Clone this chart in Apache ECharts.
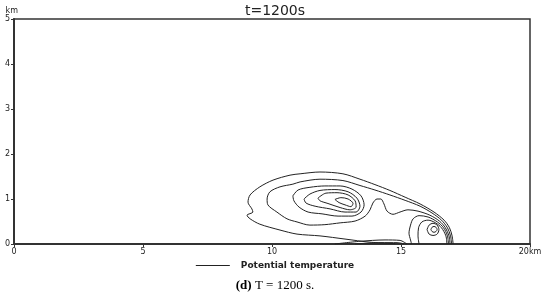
<!DOCTYPE html>
<html>
<head>
<meta charset="utf-8">
<script src="https://cdn.jsdelivr.net/npm/echarts@6/dist/echarts.min.js"></script>
<style>
  html, body { margin: 0; padding: 0; background: #fff; }
  #chart { width: 550px; height: 295px; }
</style>
</head>
<body>
<div id="chart"></div>
<script>
// axis ticks (km)
const xTicks = [0, 5, 10, 15, 20]
const yTicks = [0, 1, 2, 3, 4, 5]

// potential temperature isolines, [x km, z km]
const outer1 = [[17.02,0],[16.98,0.18],[16.88,0.36],[16.67,0.53],[16.28,0.71],[15.74,0.89],[15.16,1.04],[14.57,1.19],[13.99,1.32],[13.41,1.44],[12.75,1.56],[11.86,1.60],[11.09,1.56],[10.70,1.53],[10.04,1.42],[9.53,1.27],[9.15,1.09],[9.07,0.93],[9.22,0.78],[9.26,0.71],[9.03,0.64],[9.15,0.56],[9.53,0.44],[10.31,0.31],[10.97,0.22],[11.86,0.18],[12.83,0.11],[13.80,0.04],[14.77,0.01]]
const outer2 = [[16.96,0],[16.92,0.18],[16.80,0.36],[16.57,0.53],[16.20,0.69],[15.74,0.84],[15.16,0.97],[14.57,1.09],[13.99,1.20],[13.41,1.30],[12.75,1.41],[11.86,1.44],[11.09,1.38],[10.81,1.33],[10.31,1.27],[9.92,1.16],[9.81,1.00],[9.84,0.87],[10.19,0.71],[10.58,0.56],[10.97,0.49],[11.47,0.42],[12.05,0.43],[12.64,0.47],[13.22,0.51],[13.61,0.62],[13.80,0.76],[13.91,0.91],[14.07,1.00],[14.22,1.00],[14.34,0.89],[14.46,0.73],[14.69,0.66],[14.96,0.71],[15.27,0.76],[15.66,0.73],[16.12,0.64],[16.49,0.51],[16.72,0.36],[16.86,0.18],[16.90,0]]
// closed rings round the upper core
const core1 = [[10.81,1.07],[11.01,1.20],[11.47,1.26],[12.05,1.29],[12.64,1.29],[13.10,1.22],[13.45,1.07],[13.57,0.87],[13.45,0.71],[13.10,0.62],[12.56,0.62],[11.94,0.67],[11.40,0.71],[11.05,0.82],[10.85,0.96],[10.81,1.07]]
const core2 = [[11.24,1.00],[11.47,1.11],[11.86,1.19],[12.44,1.21],[12.95,1.16],[13.29,1.02],[13.41,0.84],[13.26,0.71],[12.83,0.71],[12.25,0.78],[11.67,0.84],[11.32,0.91],[11.24,1.00]]
const core3 = [[11.78,1.02],[12.09,1.13],[12.52,1.14],[12.95,1.09],[13.22,0.96],[13.26,0.82],[13.02,0.76],[12.64,0.81],[12.17,0.90],[11.86,0.96],[11.78,1.02]]
const core4 = [[12.44,0.99],[12.67,1.03],[12.95,1.00],[13.14,0.90],[13.06,0.83],[12.83,0.87],[12.60,0.92],[12.44,0.99]]
// head / rotor near the front
const head1 = [[15.41,0],[15.37,0.09],[15.31,0.24],[15.37,0.42],[15.47,0.56],[15.70,0.63],[16.05,0.60],[16.41,0.49],[16.65,0.36],[16.80,0.18],[16.84,0]]
const head2 = [[15.70,0],[15.66,0.18],[15.68,0.36],[15.81,0.49],[16.05,0.53],[16.34,0.47],[16.57,0.36],[16.74,0.18],[16.78,0]]
const rotor1 = [[16.01,0.32],[16.09,0.42],[16.24,0.46],[16.40,0.42],[16.47,0.32],[16.40,0.22],[16.24,0.19],[16.09,0.22],[16.01,0.32]]
const rotor2 = [[16.16,0.32],[16.20,0.37],[16.28,0.39],[16.36,0.37],[16.40,0.32],[16.36,0.28],[16.28,0.26],[16.20,0.28],[16.16,0.32]]
// lines hugging the ground behind the head
const ground1 = [[12.44,0],[13.41,0.06],[14.38,0.09],[14.96,0.08],[15.23,0]]
const ground2 = [[13.22,0],[14.19,0.03],[14.88,0.03],[15.12,0]]

const contours = [outer1, outer2, core1, core2, core3, core4, head1, head2, rotor1, rotor2, ground1, ground2]

const chart = echarts.init(document.getElementById('chart'))

const axisFont = { fontFamily: 'DejaVu Sans', fontSize: 8, color: '#222' }

chart.setOption({
  animation: false,
  title: [
    {
      text: 't=1200s',
      left: 'center',
      top: -1,
      textStyle: { fontFamily: 'DejaVu Sans', fontSize: 14, fontWeight: 'normal', color: '#222' }
    },
    {
      text: '{b|(d)} T = 1200 s.',
      left: 'center',
      top: 274,
      textStyle: {
        fontFamily: 'Liberation Serif', fontSize: 13, fontWeight: 'normal', color: '#000',
        rich: { b: { fontFamily: 'Liberation Serif', fontSize: 13, fontWeight: 'bold', color: '#000' } }
      }
    }
  ],
  legend: {
    data: ['Potential temperature'],
    top: 256,
    left: 'center',
    icon: 'rect',
    itemWidth: 34,
    itemHeight: 1,
    itemGap: 10,
    textStyle: { fontFamily: 'DejaVu Sans', fontSize: 9, fontWeight: 'bold', color: '#222', padding: [0, 0, 0, 6] }
  },
  grid: {
    left: 14,
    right: 20,
    top: 19,
    bottom: 51,
    show: true,
    borderColor: '#333',
    borderWidth: 1.5,
    backgroundColor: '#fff'
  },
  xAxis: {
    type: 'value',
    min: 0,
    max: 20,
    interval: 5,
    axisLine: { lineStyle: { color: '#333', width: 2 } },
    axisTick: { length: 3, lineStyle: { color: '#333' } },
    splitLine: { show: false },
    axisLabel: {
      ...axisFont,
      margin: 4,
      formatter: (v) => (v === xTicks[xTicks.length - 1] ? v + 'km' : String(v))
    }
  },
  yAxis: {
    type: 'value',
    min: 0,
    max: 5,
    interval: 1,
    name: 'km',
    nameLocation: 'end',
    nameGap: 1,
    nameTextStyle: { ...axisFont, align: 'right', padding: [0, -4, -6, 0] },
    axisLine: { lineStyle: { color: '#333', width: 2 } },
    axisTick: { length: 3, lineStyle: { color: '#333' } },
    splitLine: { show: false },
    axisLabel: { ...axisFont, margin: 4 }
  },
  series: contours.map((pts) => ({
    name: 'Potential temperature',
    type: 'line',
    data: pts,
    smooth: 0.3,
    symbol: 'none',
    color: '#222',
    lineStyle: { color: '#222', width: 1 }
  }))
})
</script>
</body>
</html>
